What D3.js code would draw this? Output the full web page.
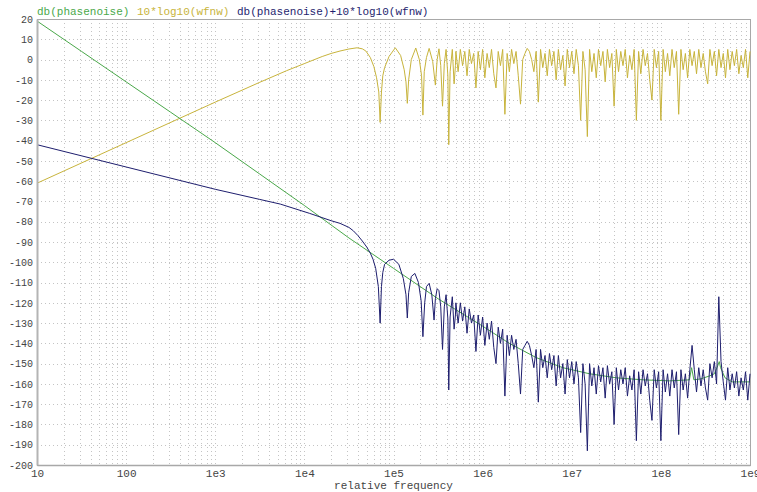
<!DOCTYPE html>
<html>
<head>
<meta charset="utf-8">
<script src="https://cdn.jsdelivr.net/npm/d3@7"></script>
<style>
  body { margin: 0; background: #fff; }
  text { font-family: "Liberation Mono", "DejaVu Sans Mono", monospace; }
</style>
</head>
<body>
<svg id="drawing_region"></svg>
<script>
// ---- data (x = log10 of frequency, y = dB) ----
const seriesNames = ["db(phasenoise)", "10*log10(wfnw)", "db(phasenoise)+10*log10(wfnw)"];
const seriesColors = ["#4aa84a", "#c8b43c", "#1e1e6e"];

const xTickValues = [10, 100, 1e3, 1e4, 1e5, 1e6, 1e7, 1e8, 1e9];
const xTickLabels = ["10", "100", "1e3", "1e4", "1e5", "1e6", "1e7", "1e8", "1e9"];
const yTickValues = [20, 10, 0, -10, -20, -30, -40, -50, -60, -70, -80, -90, -100, -110,
  -120, -130, -140, -150, -160, -170, -180, -190, -200];

// green: db(phasenoise)
const greenExp = [1.0, 1.5, 2.0, 2.5, 3.0, 3.5, 4.0, 4.5, 5.0, 5.5, 6.0, 6.3, 6.6, 6.9, 7.2, 7.5,
  7.8, 8.1, 8.32, 8.345, 8.37, 8.45, 8.55, 8.6, 8.63, 8.655, 8.67, 8.72, 8.8, 9.0];
const greenDb = [19, 4, -11, -26, -41, -56.5, -72, -88, -103, -118, -131.5, -140, -147, -152, -155, -157,
  -158, -158.5, -158, -152, -158, -157.5, -156, -155, -152, -149, -152, -157, -159, -159];

// yellow: 10*log10(wfnw), smooth part
const yellowExp = [1.0, 2.0, 3.0, 3.5, 3.8, 4.0, 4.2, 4.3, 4.4, 4.5, 4.59, 4.65, 4.69, 4.74, 4.78, 4.81, 4.835, 4.85, 4.865, 4.88, 4.9,
  4.95, 5.02, 5.08, 5.12, 5.14, 5.155, 5.17, 5.2, 5.25, 5.29, 5.315, 5.33, 5.345, 5.37, 5.40, 5.44,
  5.47, 5.49, 5.51, 5.53, 5.55, 5.57, 5.59, 5.61, 5.62, 5.635, 5.66, 5.68, 5.695];
const yellowDb = [-61, -41, -21, -11.2, -5.5, -2, 1.5, 3, 4.2, 5.2, 5.8, 5.3, 4.2, 1, -3.5, -9, -16, -31, -16, -8, -4,
  1.5, 5.8, 2, -5, -11, -21.6, -10, 0, 5.7, 0, -8, -27.4, -6, 1, 5.5, -1,
  -12.6, 0, 5.3, -3, -23, -2, 5, -8, -42, -6, 5, -12, -3];

// yellow: dense part, one value every 0.025 decade from 1e5.7 to 1e9
const denseStart = 5.7, denseStep = 0.025;
const yellowDense = [4, -6, 5, -3, 4, -8, 5, -2, 3, -14, 4, -5, 5, -9, 3, -4, 5, -7, -14, 4,
  -3, 5, -27, 3, -6, 5, -2, 4, -8, -22, 0, 3, 5.5, 4, 0, -6, 4, -21, 5, -4,
  3, -8, 5, -3, 4, -10, 5, -5, 2, -13, 5, -4, 4, -7, 5, -3, -30, 4, -5, -38,
  5, -6, 3, -9, 5, -3, 4, -11, 5, -4, 3, -23, 5, -6, 4, -3, 5, -9, 2, -5,
  5, -30, 4, -7, 5, -3, 3, -10, -20, 5, -4, 4, -30, 5, -6, 3, -8, 5, -4, 4,
  -27, 5, -5, 3, -9, 5, -3, 4, -7, 5, -4, 3, -6, -12, 5, -3, 4, -8, 5, -4,
  3, -9, 5, -5, 4, -3, 5, -7, 2, -4, 5, -9, 4];

// blue: db(phasenoise)+10*log10(wfnw), smooth part
const blueExp = [1.0, 2.0, 3.0, 3.5, 3.73, 4.06, 4.3, 4.4, 4.5, 4.55, 4.6, 4.65, 4.7, 4.74, 4.77, 4.8, 4.83, 4.85,
  4.865, 4.88, 4.9, 4.95, 5.0, 5.06, 5.11, 5.14, 5.155, 5.17, 5.2, 5.24, 5.28, 5.31, 5.33, 5.35, 5.37, 5.40, 5.43, 5.455,
  5.47, 5.49, 5.51, 5.53, 5.55, 5.57, 5.59, 5.61, 5.62, 5.635, 5.66, 5.68, 5.695];
const blueDb = [-42, -53, -64, -69, -71.3, -75.9, -79.5, -80.8, -82.8, -84.5, -86.8, -89.5, -92.5, -95.5, -98.5, -103, -112, -130,
  -112, -105, -101, -99, -98.5, -101, -108, -116, -127.5, -115, -107, -105.5, -110, -119, -136.7, -120, -112, -110.4, -116, -128.5,
  -118, -113, -114, -122, -143, -122, -116, -128, -163, -127, -117, -133, -126];

// blue: dense part, same grid as the yellow one
const blueDense = [-120, -130, -120, -129, -122, -135, -123, -130, -126, -144, -126, -136, -127, -141, -130, -138, -129, -142, -150, -132,
  -140, -133, -166, -136, -146, -136, -143, -138, -150, -165, -143, -141, -139, -141, -146, -152, -143, -169, -143, -152,
  -146, -157, -145, -153, -146, -161, -146, -157, -150, -165, -148, -157, -149, -160, -149, -157, -184, -150, -160, -193,
  -150, -161, -152, -165, -151, -159, -152, -167, -151, -160, -154, -180, -152, -163, -153, -160, -152, -166, -156, -163,
  -153, -188, -154, -165, -153, -161, -155, -168, -178, -153, -162, -154, -188, -153, -164, -155, -166, -153, -162, -154,
  -185, -153, -163, -155, -167, -153, -141, -153, -164, -152, -161, -153, -162, -168, -150, -157, -149, -160, -117, -149,
  -159, -168, -152, -163, -155, -162, -154, -166, -157, -163, -154, -168, -155];

// ---- chart ----
const config = {
  width: 757,
  height: 492,
  margin: { top: 19, right: 7, bottom: 27, left: 37 }
};

const svg = d3.select('#drawing_region')
  .attr('width', config.width)
  .attr('height', config.height);

const plotLeft = config.margin.left;
const plotRight = config.width - config.margin.right;
const plotTop = config.margin.top;
const plotBottom = config.height - config.margin.bottom;

const xscale = d3.scaleLog().domain([10, 1e9]).range([plotLeft, plotRight]);
const yscale = d3.scaleLinear().domain([-200, 20]).range([plotBottom, plotTop]);

// grid
const xGrid = [];
for (let d = 1; d < 9; d++) {
  for (let k = 1; k <= 9; k++) xGrid.push(k * Math.pow(10, d));
}
const grid = svg.append('g')
  .attr('stroke', '#c4c4c4')
  .attr('stroke-width', 1)
  .attr('stroke-dasharray', '1,3');

grid.selectAll('line.v')
  .data(xGrid.filter(v => v > 10))
  .join('line')
  .attr('class', 'v')
  .attr('x1', d => Math.round(xscale(d)) + 0.5)
  .attr('x2', d => Math.round(xscale(d)) + 0.5)
  .attr('y1', plotTop)
  .attr('y2', plotBottom);

grid.selectAll('line.h')
  .data(yTickValues.filter(v => v > -200 && v < 20))
  .join('line')
  .attr('class', 'h')
  .attr('x1', plotLeft)
  .attr('x2', plotRight)
  .attr('y1', d => Math.round(yscale(d)) + 0.5)
  .attr('y2', d => Math.round(yscale(d)) + 0.5);

// frame
svg.append('rect')
  .attr('x', plotLeft + 0.5).attr('y', plotTop + 0.5)
  .attr('width', plotRight - plotLeft).attr('height', plotBottom - plotTop)
  .attr('fill', 'none').attr('stroke', '#a8a8a8').attr('stroke-width', 1);

// curves
const line = d3.line()
  .x(d => xscale(Math.pow(10, d[0])))
  .y(d => yscale(d[1]));

const greenPts = greenExp.map((e, i) => [e, greenDb[i]]);
const yellowPts = yellowExp.map((e, i) => [e, yellowDb[i]])
  .concat(yellowDense.map((v, i) => [denseStart + i * denseStep, v]));
const bluePts = blueExp.map((e, i) => [e, blueDb[i]])
  .concat(blueDense.map((v, i) => [denseStart + i * denseStep, v]));

const plot = svg.append('g');
plot.append('path').datum(yellowPts)
  .attr('d', line).attr('fill', 'none')
  .attr('stroke', seriesColors[1]).attr('stroke-width', 1);
plot.append('path').datum(greenPts)
  .attr('d', line).attr('fill', 'none')
  .attr('stroke', seriesColors[0]).attr('stroke-width', 1);
plot.append('path').datum(bluePts)
  .attr('d', line).attr('fill', 'none')
  .attr('stroke', seriesColors[2]).attr('stroke-width', 1);

// axes
const yaxis = d3.axisLeft(yscale)
  .tickValues(yTickValues)
  .tickSize(0)
  .tickPadding(4)
  .tickFormat(d => d);
const yaxis_group = svg.append('g')
  .attr('transform', `translate(${plotLeft}, 0)`)
  .call(yaxis);
yaxis_group.select('.domain').attr('stroke', '#b4b4b4').attr('stroke-width', 2);
yaxis_group.selectAll('text')
  .attr('font-family', '"Liberation Mono", monospace')
  .attr('font-size', 10)
  .attr('fill', '#444');

const xaxis = d3.axisBottom(xscale)
  .tickValues(xTickValues)
  .tickSize(0)
  .tickPadding(4)
  .tickFormat((d, i) => xTickLabels[i]);
const xaxis_group = svg.append('g')
  .attr('transform', `translate(0, ${plotBottom})`)
  .call(xaxis);
xaxis_group.select('.domain').attr('stroke', '#a8a8a8').attr('stroke-width', 1.5);
xaxis_group.selectAll('text')
  .attr('font-family', '"Liberation Mono", monospace')
  .attr('font-size', 11)
  .attr('fill', '#444');

svg.append('text')
  .attr('x', (plotLeft + plotRight) / 2)
  .attr('y', 489)
  .attr('text-anchor', 'middle')
  .attr('font-size', 11)
  .attr('fill', '#444')
  .text('relative frequency');

// legend across the top
const legendX = [37, 137, 237];
svg.selectAll('text.legend')
  .data(seriesNames)
  .join('text')
  .attr('class', 'legend')
  .attr('x', (d, i) => legendX[i])
  .attr('y', 15)
  .attr('font-size', 11)
  .attr('fill', (d, i) => seriesColors[i])
  .text(d => d);
</script>
</body>
</html>
